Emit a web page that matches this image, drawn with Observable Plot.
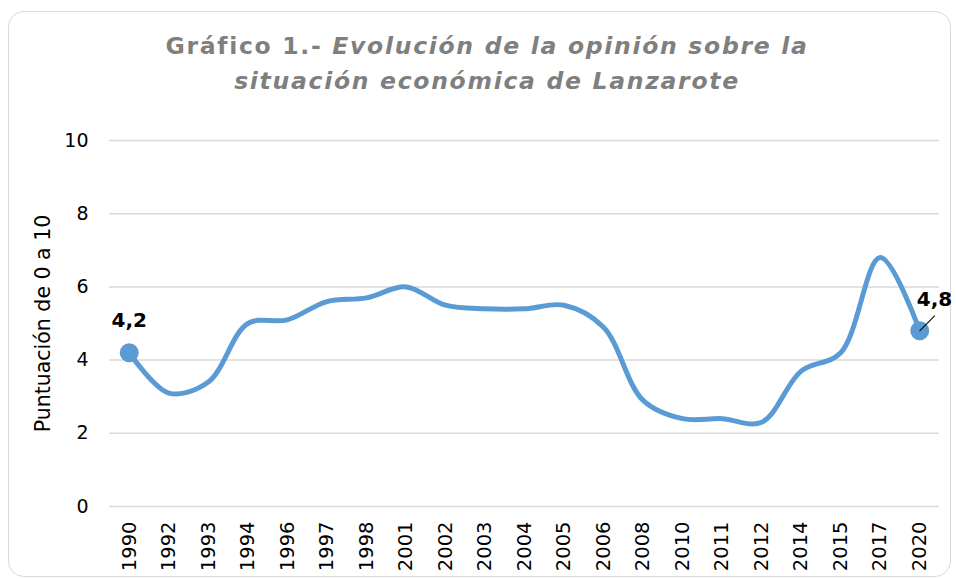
<!DOCTYPE html>
<html>
<head>
<meta charset="utf-8">
<script src="https://cdn.jsdelivr.net/npm/d3@7"></script>
<script src="https://cdn.jsdelivr.net/npm/@observablehq/plot@0.6"></script>
<style>
  html, body { margin: 0; padding: 0; background: #fff; }
  #wrap { position: relative; width: 956px; height: 579px; overflow: hidden; font-family: "DejaVu Sans", Verdana, sans-serif; }
  #frame { position: absolute; left: 8px; top: 11px; width: 941px; height: 564px; border: 1.5px solid #d9d9d9; border-radius: 16px; }
  #title { position: absolute; left: 0; top: 29px; width: 974px; text-align: center; color: #7f7f7f; font-weight: bold; font-size: 23.5px; letter-spacing: 1.7px; line-height: 35px; }
  #title i { font-style: italic; }
  #chart { position: absolute; left: 0; top: 110px; }
</style>
</head>
<body>
<div id="wrap">
  <div id="frame"></div>
  <div id="title">Gráfico 1.- <i>Evolución de la opinión sobre la<br>situación económica de Lanzarote</i></div>
  <div id="chart"></div>
</div>
<script>
const years = ["1990","1992","1993","1994","1996","1997","1998","2001","2002","2003","2004","2005","2006","2008","2010","2011","2012","2014","2015","2017","2020"];
const values = [4.2, 3.1, 3.4, 5.0, 5.1, 5.6, 5.7, 6.0, 5.5, 5.4, 5.4, 5.5, 4.9, 2.9, 2.4, 2.4, 2.3, 3.7, 4.2, 6.8, 4.8];
const yTicks = [0, 2, 4, 6, 8, 10];
const yLabel = "Puntuación de 0 a 10";

const data = years.map((year, i) => ({year, value: values[i]}));
const first = data[0];
const last = data[data.length - 1];
const fmt = d => d.value.toFixed(1).replace(".", ",");

const leader = {
  draw(context, l) {
    context.moveTo(0, 0);
    context.lineTo(0, -l);
  }
};

const chart = Plot.plot({
  width: 956,
  height: 469,
  marginTop: 30,
  marginBottom: 73,
  marginLeft: 109,
  marginRight: 17,
  style: {fontFamily: "'DejaVu Sans', Verdana, sans-serif", fontSize: "19px", color: "#000", background: "transparent"},
  x: {type: "point", domain: years, padding: 0.5, round: false, label: null},
  y: {domain: [0, 10], ticks: yTicks, label: yLabel},
  marks: [
    Plot.ruleY(yTicks, {stroke: "#d9d9d9", strokeWidth: 1.5}),
    Plot.axisY({ticks: yTicks, tickSize: 0, tickPadding: 21, fontSize: 19, label: null}),
    Plot.axisY({ticks: [], tickSize: 0, label: yLabel, labelAnchor: "center", labelOffset: 74, labelArrow: false, fontSize: 20.5}),
    Plot.axisX({tickSize: 0, tickRotate: -90, tickPadding: 15, fontSize: 19.5, label: null}),
    Plot.line(data, {x: "year", y: "value", stroke: "#5B9BD5", strokeWidth: 5, curve: "catmull-rom"}),
    Plot.dot([first, last], {x: "year", y: "value", r: 9.5, fill: "#5B9BD5"}),
    Plot.vector([last], {x: "year", y: "value", length: 21, rotate: 45, anchor: "start", stroke: "#000", strokeWidth: 1, shape: leader}),
    Plot.text([first], {x: "year", y: "value", text: fmt, dy: -32, fontWeight: "bold", fontSize: 20, fill: "#000"}),
    Plot.text([last], {x: "year", y: "value", text: fmt, textAnchor: "start", dx: -3, dy: -31, fontWeight: "bold", fontSize: 20, fill: "#000"})
  ]
});
document.getElementById("chart").appendChild(chart);
</script>
</body>
</html>
